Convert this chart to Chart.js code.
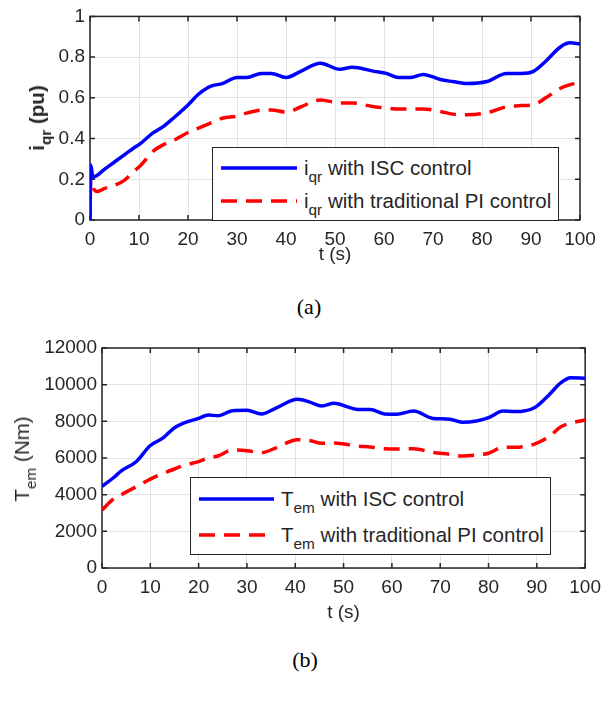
<!DOCTYPE html>
<html>
<head>
<meta charset="utf-8">
<script src="https://cdn.jsdelivr.net/npm/chart.js@4"></script>
<style>
body { margin: 0; background: #fff; }
#page { position: relative; width: 609px; height: 708px; font-family: "Liberation Sans", Arial, sans-serif; color: #262626; }
canvas { position: absolute; left: 0; }
.ytitle { position: absolute; transform: translate(-50%, -50%) rotate(-90deg); white-space: nowrap; font-size: 20.5px; }
.legend { position: absolute; background: #fff; border: 1px solid #262626; box-sizing: border-box; font-size: 20.5px; }
.legend .row { position: absolute; left: 8px; display: flex; align-items: center; white-space: nowrap; height: 30px; }
.legend svg { margin-right: 7px; }
.caption { position: absolute; font-family: "Liberation Serif", "Times New Roman", serif; font-size: 22px; line-height: 22px; color: #000; transform: translateX(-50%); }
sub { font-size: 0.75em; vertical-align: -0.45em; line-height: 0; }
</style>
</head>
<body>
<div id="page">
  <canvas id="chartA" width="609" height="270" style="top:0;width:609px;height:270px"></canvas>
  <canvas id="chartB" width="609" height="300" style="top:330px;width:609px;height:300px"></canvas>

  <div class="ytitle" style="left:37px;top:118px;font-weight:bold">i<sub>qr</sub> (pu)</div>
  <div class="ytitle" style="left:22px;top:459px">T<sub>em</sub> (Nm)</div>

  <div class="legend" style="left:212px;top:147px;width:347px;height:74px">
    <div class="row" style="top:5px">
      <svg width="76" height="6"><line x1="0" y1="3" x2="76" y2="3" stroke="#0000ff" stroke-width="3.5"/></svg>
      <span>i<sub>qr</sub> with ISC control</span>
    </div>
    <div class="row" style="top:38px">
      <svg width="76" height="6"><line x1="0" y1="3" x2="76" y2="3" stroke="#ff0000" stroke-width="3.5" stroke-dasharray="16 9"/></svg>
      <span>i<sub>qr</sub> with traditional PI control</span>
    </div>
  </div>

  <div class="legend" style="left:190px;top:477px;width:361px;height:78px">
    <div class="row" style="top:6px">
      <svg width="75" height="6"><line x1="0" y1="3" x2="75" y2="3" stroke="#0000ff" stroke-width="3.5"/></svg>
      <span>T<sub>em</sub> with ISC control</span>
    </div>
    <div class="row" style="top:42px">
      <svg width="75" height="6"><line x1="0" y1="3" x2="75" y2="3" stroke="#ff0000" stroke-width="3.5" stroke-dasharray="16 9"/></svg>
      <span>T<sub>em</sub> with traditional PI control</span>
    </div>
  </div>

  <div class="caption" style="left:309px;top:296px">(a)</div>
  <div class="caption" style="left:305px;top:649px">(b)</div>
</div>

<script>
// tick labels
const xTicks = [0, 10, 20, 30, 40, 50, 60, 70, 80, 90, 100];
const yTicksA = [0, 0.2, 0.4, 0.6, 0.8, 1];
const yTicksB = [0, 2000, 4000, 6000, 8000, 10000, 12000];

// (a) rotor q-axis current, pu
const tA = [0, 0.15, 0.6, 1.5, 3, 5, 7, 9, 10, 13, 15, 17, 20, 22, 24, 25, 27, 30, 32, 35, 37, 40, 43, 47,
            51, 53.5, 58, 60.5, 63, 65.5, 68, 71.5, 74, 77, 81, 85, 88, 90.5, 93, 96, 98, 100];
const iqrIsc = [0, 0.27, 0.21, 0.22, 0.25, 0.285, 0.32, 0.355, 0.37, 0.43, 0.46, 0.50, 0.565, 0.615, 0.65, 0.66,
                0.67, 0.70, 0.70, 0.72, 0.72, 0.70, 0.73, 0.77, 0.74, 0.75, 0.73, 0.72, 0.70, 0.70, 0.715, 0.69,
                0.68, 0.67, 0.68, 0.72, 0.72, 0.73, 0.78, 0.85, 0.87, 0.865];
const iqrPi = [0, 0.2, 0.16, 0.14, 0.155, 0.17, 0.195, 0.24, 0.26, 0.34, 0.37, 0.39, 0.43, 0.45, 0.47, 0.48,
               0.50, 0.51, 0.525, 0.54, 0.54, 0.53, 0.555, 0.59, 0.575, 0.575, 0.556, 0.55, 0.545, 0.545, 0.545,
               0.533, 0.52, 0.517, 0.527, 0.556, 0.562, 0.566, 0.60, 0.647, 0.665, 0.675];

// (b) electromagnetic torque, Nm
const tB = [0, 2.5, 4, 7, 10, 12.5, 15, 17, 20, 22, 24, 27, 30, 33, 36, 40.5, 43, 45.5, 48, 53, 55.5, 58.5,
            61, 64.5, 68.5, 72, 74.5, 77.5, 80, 83, 85.5, 89.5, 92.5, 95, 97, 100];
const temIsc = [4450, 4950, 5300, 5780, 6680, 7070, 7650, 7920, 8160, 8350, 8300, 8580, 8600, 8400, 8720, 9200,
                9050, 8840, 8980, 8650, 8650, 8400, 8390, 8560, 8160, 8120, 7950, 8020, 8200, 8560, 8530, 8745,
                9440, 10110, 10380, 10350];
const temPi = [3160, 3800, 4000, 4420, 4850, 5150, 5400, 5600, 5800, 6000, 6110, 6440, 6400, 6290, 6550, 7000,
               6950, 6800, 6820, 6650, 6600, 6500, 6490, 6500, 6300, 6200, 6110, 6160, 6260, 6580, 6580, 6760,
               7160, 7710, 7900, 8070];

const FONT = '"Liberation Sans", Arial, sans-serif';
const INK = '#262626';

function pts(xs, ys) {
    return xs.map((x, i) => ({ x: x, y: ys[i] }));
}

// MATLAB-like box with inward ticks on all four sides
const boxPlugin = {
    id: 'box',
    beforeDatasetsDraw(chart) {
        const { ctx, chartArea: a, scales } = chart;
        ctx.save();
        ctx.strokeStyle = INK;
        ctx.lineWidth = 1.5;
        ctx.beginPath();
        scales.x.ticks.forEach(t => {
            const px = scales.x.getPixelForValue(t.value);
            ctx.moveTo(px, a.bottom); ctx.lineTo(px, a.bottom - 5);
            ctx.moveTo(px, a.top); ctx.lineTo(px, a.top + 5);
        });
        scales.y.ticks.forEach(t => {
            const py = scales.y.getPixelForValue(t.value);
            ctx.moveTo(a.left, py); ctx.lineTo(a.left + 5, py);
            ctx.moveTo(a.right, py); ctx.lineTo(a.right - 5, py);
        });
        ctx.stroke();
        ctx.strokeRect(a.left, a.top, a.right - a.left, a.bottom - a.top);
        ctx.restore();
    }
};

function makeChart(id, xs, ysBlue, ysRed, yTicks, yMax, opts) {
    return new Chart(document.getElementById(id), {
        type: 'line',
        data: {
            datasets: [{
                data: pts(xs, ysBlue),
                borderColor: '#0000ff',
                borderWidth: 3.5,
                pointRadius: 0,
                cubicInterpolationMode: 'monotone'
            }, {
                data: pts(xs, ysRed),
                borderColor: '#ff0000',
                borderWidth: 3.5,
                borderDash: [16, 9],
                pointRadius: 0,
                cubicInterpolationMode: 'monotone'
            }]
        },
        options: {
            responsive: false,
            animation: false,
            layout: { padding: opts.padding },
            plugins: { legend: { display: false }, tooltip: { enabled: false } },
            scales: {
                x: {
                    type: 'linear',
                    min: 0,
                    max: 100,
                    afterBuildTicks: s => { s.ticks = xTicks.map(v => ({ value: v })); },
                    afterFit: s => { s.height = opts.xHeight; },
                    grid: { color: '#e3e3e3', drawTicks: false },
                    border: { display: false },
                    ticks: { color: INK, font: { family: FONT, size: 19 }, padding: 8, maxRotation: 0,
                             callback: v => String(v) },
                    title: { display: true, text: 't (s)', color: INK, font: { family: FONT, size: 19 },
                             padding: { top: 0, bottom: opts.titlePad } }
                },
                y: {
                    min: 0,
                    max: yMax,
                    afterBuildTicks: s => { s.ticks = yTicks.map(v => ({ value: v })); },
                    afterFit: s => { s.width = opts.yWidth; },
                    grid: { color: '#e3e3e3', drawTicks: false },
                    border: { display: false },
                    ticks: { color: INK, font: { family: FONT, size: 19 }, padding: 5,
                             callback: v => String(v) }
                }
            }
        },
        plugins: [boxPlugin]
    });
}

makeChart('chartA', tA, iqrIsc, iqrPi, yTicksA, 1,
    { padding: { left: 0, right: 29, top: 15, bottom: 0 }, xHeight: 50, yWidth: 90, titlePad: 4 });
makeChart('chartB', tB, temIsc, temPi, yTicksB, 12000,
    { padding: { left: 0, right: 18, top: 18, bottom: 0 }, xHeight: 62, yWidth: 102, titlePad: 6 });
</script>
</body>
</html>
